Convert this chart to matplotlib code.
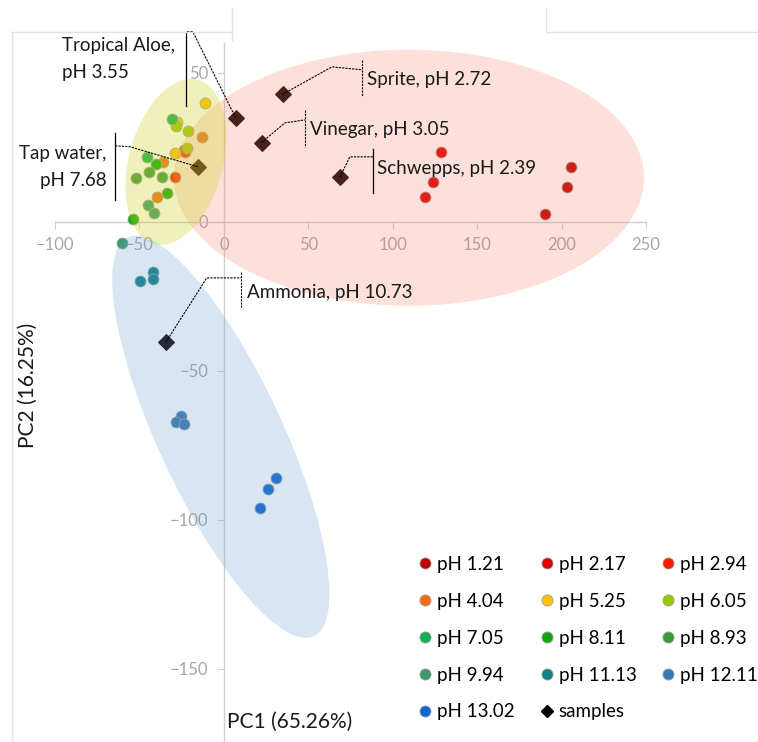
import matplotlib
matplotlib.use('Agg')
import matplotlib.pyplot as plt
from matplotlib.patches import Ellipse
from matplotlib.lines import Line2D
from matplotlib.transforms import Affine2D, ScaledTranslation

W, H = 758, 742

# reference groups (pH standards), three replicates where visible
ph_labels = ['pH 1.21', 'pH 2.17', 'pH 2.94', 'pH 4.04', 'pH 5.25', 'pH 6.05', 'pH 7.05',
             'pH 8.11', 'pH 8.93', 'pH 9.94', 'pH 11.13', 'pH 12.11', 'pH 13.02']
ph_colors = ['#c00000', '#e00000', '#ff1a00', '#f46d10', '#ffc000', '#99c800', '#10b050',
             '#10a810', '#3a9a3a', '#3a9a68', '#10808a', '#3a78b4', '#1066d0']
ph_pc1 = [[205.6, 203.4, 190.0], [128.6, 124.0, 119.0], [-23.5, -22.9, -28.8],
          [-13.0, -36.3, -39.5], [-27.5, -11.3, -29.0], [-28.6, -21.5, -22.1],
          [-30.6, -45.4], [-39.9, -33.8, -53.7], [-44.2, -36.9, -52.1],
          [-44.8, -41.3, -60.6], [-49.8, -42.2, -42.2], [-25.5, -28.6, -23.9],
          [30.6, 26.3, 21.3]]
ph_pc2 = [[18.4, 11.6, 2.5], [23.3, 13.4, 8.5], [24.0, 23.6, 15.0],
          [28.5, 20.0, 8.2], [33.5, 39.8, 23.0], [32.3, 30.5, 24.7],
          [34.6, 21.7], [19.5, 9.6, 1.0], [16.7, 15.0, 14.7],
          [5.5, 2.9, -7.2], [-20.0, -16.7, -19.1], [-65.0, -67.0, -67.8],
          [-86.1, -89.7, -96.1]]

# unknown samples
sample_names = ['Tropical Aloe', 'Sprite', 'Vinegar', 'Schwepps', 'Tap water', 'Ammonia']
sample_pc1 = [7.1, 34.8, 22.3, 68.7, -15.4, -34.4]
sample_pc2 = [34.8, 42.8, 26.6, 15.0, 18.5, -40.4]


def fig_xy(px, py):
    return px / W, 1 - py / H


def add_blob(ax, cx, cy, w_px, h_px, angle, color, alpha):
    # ellipse sized in screen pixels, centred on a data point
    tr = Affine2D() + ScaledTranslation(cx, cy, ax.transData)
    ax.add_patch(Ellipse((0, 0), w_px, h_px, angle=angle, transform=tr,
                         facecolor=color, alpha=alpha, edgecolor='none', zorder=5))


def main():
    plt.rcParams['font.family'] = ['Lato', 'DejaVu Sans']

    fig = plt.figure(figsize=(W / 100, H / 100), dpi=100)
    ax = fig.add_axes([55 / W, 0, 591 / W, 699 / H])
    ax.set_xlim(-100, 250)
    ax.set_ylim(-174.5, 60)

    for s in ['top', 'right']:
        ax.spines[s].set_visible(False)
    for s in ['left', 'bottom']:
        ax.spines[s].set_position('zero')
        ax.spines[s].set_color('#d0d0d0')
        ax.spines[s].set_linewidth(1.0)
    ax.set_xticks(range(-100, 251, 50))
    ax.set_yticks(range(-150, 51, 50))
    ax.tick_params(colors='#d0d0d0', labelcolor='#a6a6a6', labelsize=12,
                   length=5, direction='out')
    ax.tick_params(axis='x', pad=6)
    ax.tick_params(axis='y', pad=6)

    for xs, ys, c in zip(ph_pc1, ph_pc2, ph_colors):
        ax.scatter(xs, ys, s=62, color=c, edgecolors='#a0a0a0', linewidths=0.6, zorder=3)
    ax.scatter(sample_pc1, sample_pc2, s=62, marker='D', color='#100303', zorder=4)

    # shaded groups
    add_blob(ax, 109.6, 14.8, 470, 256, 0, '#f68060', 0.24)
    add_blob(ax, -28.4, 20.1, 94, 170, -15, '#d2d42a', 0.32)
    add_blob(ax, -1.8, -72.1, 440, 124, -65, '#679fd3', 0.25)

    # callouts
    dash = dict(color='black', lw=0.8, ls=(0, (2, 1)), zorder=6, clip_on=False)
    solid = dict(color='black', lw=0.9, zorder=6, clip_on=False)
    tk = dict(fontsize=13.5, color='#1a1a1a', zorder=7, va='center')

    ax.plot([34.8, 64.0, 81.8], [42.8, 52.0, 51.0], **dash)
    ax.plot([81.8, 81.8], [54.4, 42.3], **dash)
    ax.text(84.7, 47.7, 'Sprite, pH 2.72', **tk)

    ax.plot([22.3, 36.1, 48.0], [26.6, 33.2, 34.2], **dash)
    ax.plot([48.0, 48.0], [37.6, 25.2], **dash)
    ax.text(50.9, 30.9, 'Vinegar, pH 3.05', **tk)

    ax.plot([68.7, 74.6, 88.3], [15.0, 21.8, 21.8], **dash)
    ax.plot([88.3, 88.3], [24.5, 9.7], **solid)
    ax.text(90.6, 17.8, 'Schwepps, pH 2.39', **tk)

    ax.plot([-34.4, -10.1, 10.1], [-40.4, -18.8, -18.8], **dash)
    ax.plot([10.1, 10.1], [-16.8, -28.5], **dash)
    ax.text(13.6, -23.8, 'Ammonia, pH 10.73', **tk)

    ax.plot([-15.4, -55.7, -64.6], [18.5, 25.2, 25.5], **dash)
    ax.plot([-64.6, -64.6], [29.9, 7.4], **solid)
    ax.text(-69.3, 18.4, 'Tap water,\npH 7.68', ha='right', multialignment='right',
            linespacing=1.7, **tk)

    ax.plot([7.1, -18.4, -22.5], [34.8, 63.8, 63.8], **dash)
    ax.plot([-22.5, -22.5], [63.8, 38.9], **solid)
    ax.text(-29.0, 54.7, 'Tropical Aloe,\npH 3.55', ha='right', multialignment='left',
            linespacing=1.7, **tk)

    # axis titles
    fig.text(*fig_xy(290, 722), 'PC1 (65.26%)', fontsize=15, color='#1a1a1a',
             ha='center', va='center')
    fig.text(*fig_xy(28, 385), 'PC2 (16.25%)', fontsize=15, color='#1a1a1a',
             ha='center', va='center', rotation=90)

    # legend, filled row by row in three columns
    handles = [Line2D([], [], ls='none', marker='o', markersize=8, markerfacecolor=c,
                      markeredgecolor='#a0a0a0', markeredgewidth=0.6) for c in ph_colors]
    handles.append(Line2D([], [], ls='none', marker='D', markersize=6.5, color='black'))
    labels = ph_labels + ['samples']
    col_x = [425, 547, 668]
    for i, cx in enumerate(col_x):
        fig.legend(handles[i::3], labels[i::3], loc='upper left',
                   bbox_to_anchor=fig_xy(cx - 9.7, 556), frameon=False,
                   fontsize=13.5, handlelength=1.0, handletextpad=0.15,
                   labelspacing=1.06, borderpad=0, borderaxespad=0)

    # faint chart-area borders
    border = dict(color='#e3e3e3', lw=1.0)
    fig.add_artist(Line2D([12 / W, 12 / W], [0, 1 - 32 / H], **border))
    fig.add_artist(Line2D([12 / W, 232 / W], [1 - 32 / H, 1 - 32 / H], **border))
    fig.add_artist(Line2D([232 / W, 232 / W], [1 - 8 / H, 1 - 40 / H], **border))
    fig.add_artist(Line2D([546 / W, 546 / W], [1 - 8 / H, 1 - 32 / H], **border))
    fig.add_artist(Line2D([546 / W, 1], [1 - 32 / H, 1 - 32 / H], **border))

    fig.savefig('out.png', dpi=100, facecolor='white')


if __name__ == '__main__':
    main()
